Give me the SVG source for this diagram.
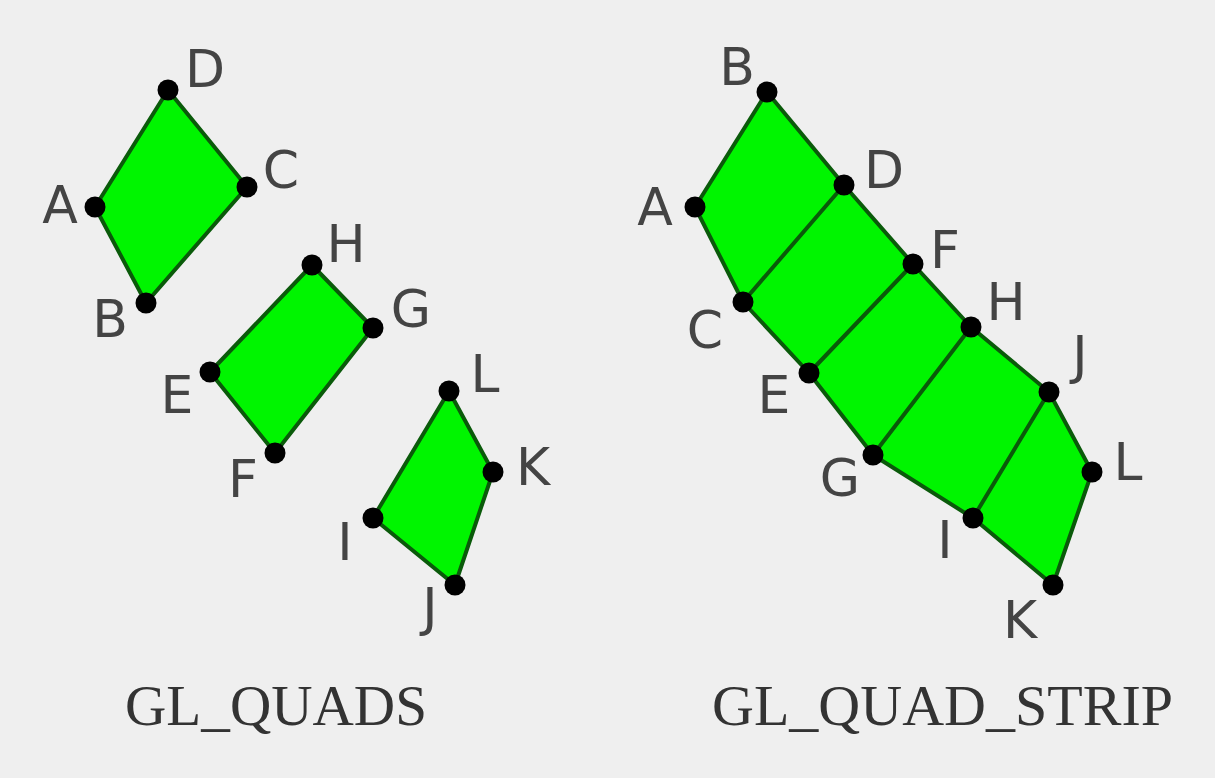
<svg xmlns="http://www.w3.org/2000/svg" width="1215" height="778" viewBox="0 0 1215 778">
<style>
.q{fill:#00f500;stroke:#0a5a0a;stroke-width:4;stroke-linejoin:round}
.e{fill:none;stroke:#0a5a0a;stroke-width:4;stroke-linecap:round}
.v{fill:#000}
.l{font-family:"DejaVu Sans",sans-serif;font-size:52px;fill:#444;text-anchor:middle}
.cap{font-family:"Liberation Serif",serif;font-size:58px;fill:#333}
</style>
<rect width="1215" height="778" fill="#efefef"/>
<g id="connectors">
<polygon class="q" points="95,207 168,90 247,187 146,303"/>
<polygon class="q" points="210,372 312,265 373,328 275,453"/>
<polygon class="q" points="373,518 449,391 493,472 455,585"/>
<polygon class="q" points="695,207 767,92 844,185 913,264 971,327 1049,392 1092,472 1053,585 973,518 873,455 809,373 743,302"/>
<line class="e" x1="743" y1="302" x2="844" y2="185"/>
<line class="e" x1="809" y1="373" x2="913" y2="264"/>
<line class="e" x1="873" y1="455" x2="971" y2="327"/>
<line class="e" x1="973" y1="518" x2="1049" y2="392"/>
</g>
<g id="quad-ABCD">
<circle class="v" cx="95" cy="207" r="10.5"/><circle class="v" cx="168" cy="90" r="10.5"/><circle class="v" cx="247" cy="187" r="10.5"/><circle class="v" cx="146" cy="303" r="10.5"/>
<text class="l" x="205" y="87">D</text><text class="l" x="281" y="188">C</text><text class="l" x="60" y="223">A</text><text class="l" x="110" y="337">B</text>
</g>
<g id="quad-EFGH">
<circle class="v" cx="210" cy="372" r="10.5"/><circle class="v" cx="312" cy="265" r="10.5"/><circle class="v" cx="373" cy="328" r="10.5"/><circle class="v" cx="275" cy="453" r="10.5"/>
<text class="l" x="346" y="262">H</text><text class="l" x="411" y="327">G</text><text class="l" x="177" y="413">E</text><text class="l" x="243" y="497">F</text>
</g>
<g id="quad-IJKL">
<circle class="v" cx="373" cy="518" r="10.5"/><circle class="v" cx="449" cy="391" r="10.5"/><circle class="v" cx="493" cy="472" r="10.5"/><circle class="v" cx="455" cy="585" r="10.5"/>
<text class="l" x="485" y="392">L</text><text class="l" x="533" y="485">K</text><text class="l" x="345" y="560">I</text><text class="l" x="430" y="625">J</text>
</g>
<g id="strip">
<circle class="v" cx="695" cy="207" r="10.5"/><circle class="v" cx="767" cy="92" r="10.5"/><circle class="v" cx="844" cy="185" r="10.5"/><circle class="v" cx="743" cy="302" r="10.5"/>
<circle class="v" cx="913" cy="264" r="10.5"/><circle class="v" cx="809" cy="373" r="10.5"/><circle class="v" cx="971" cy="327" r="10.5"/><circle class="v" cx="873" cy="455" r="10.5"/>
<circle class="v" cx="1049" cy="392" r="10.5"/><circle class="v" cx="973" cy="518" r="10.5"/><circle class="v" cx="1092" cy="472" r="10.5"/><circle class="v" cx="1053" cy="585" r="10.5"/>
<text class="l" x="737" y="85">B</text><text class="l" x="884" y="188">D</text><text class="l" x="655" y="225">A</text><text class="l" x="705" y="348">C</text>
<text class="l" x="945" y="268">F</text><text class="l" x="1006" y="320">H</text><text class="l" x="774" y="413">E</text><text class="l" x="1080" y="373">J</text>
<text class="l" x="840" y="496">G</text><text class="l" x="1128" y="480">L</text><text class="l" x="945" y="558">I</text><text class="l" x="1020" y="638">K</text>
</g>
<text class="cap" x="125" y="725" textLength="302" lengthAdjust="spacingAndGlyphs">GL_QUADS</text>
<text class="cap" x="712" y="725" textLength="461" lengthAdjust="spacingAndGlyphs">GL_QUAD_STRIP</text>
</svg>
